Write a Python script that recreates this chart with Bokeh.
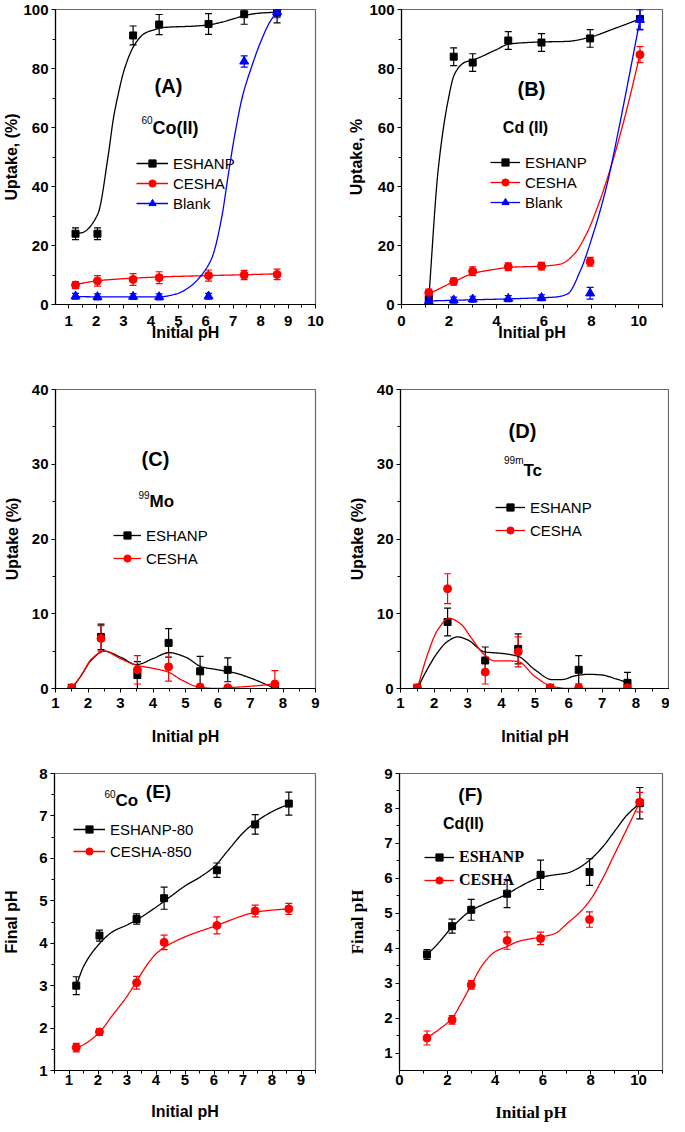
import numpy as np
from bokeh.plotting import figure
from bokeh.layouts import row, column
from bokeh.models import (ColumnDataSource, Whisker, TeeHead, Legend, LegendItem,
                          Label, FixedTicker, Range1d)
from bokeh.embed import file_html
from bokeh.resources import INLINE

# ---------------- DATA ----------------
# Panel A : 60Co(II) uptake
a_ph = [1.25, 2.05, 3.35, 4.3, 6.1, 7.4, 8.6]
a_eshanp = [24.0, 24.0, 91.2, 94.9, 95.1, 98.4, 98.9]
a_eshanp_err = [2.0, 2.0, 3.2, 3.4, 3.5, 3.4, 3.4]
a_cesha = [6.6, 8.0, 8.5, 9.1, 9.8, 10.0, 10.2]
a_cesha_err = [1.2, 1.8, 2.0, 2.0, 1.9, 1.6, 1.8]
a_blank = [2.8, 2.6, 2.7, 2.6, 2.8, 82.4, 99.2]
a_blank_err = [1.0, 1.0, 1.0, 1.0, 1.0, 1.9, 2.0]
a_fit_eshanp_x = [1.25, 1.5, 2.06, 2.45, 2.63, 2.8, 3.04, 3.4, 3.75, 4.1, 4.46, 5.64, 6.11, 6.58, 7.06, 7.53, 8.0, 8.6]
a_fit_eshanp_y = [24.0, 24.4, 30.6, 51, 63, 71, 80, 88, 91.8, 93.1, 93.9, 94.4, 94.8, 95.7, 97, 98.2, 98.8, 99.1]
a_fit_cesha_x = [1.25, 2.1, 3.3, 4.5, 6.1, 7.4, 8.6]
a_fit_cesha_y = [6.8, 8.1, 8.9, 9.4, 9.8, 10.1, 10.4]
a_fit_blank_x = [1.25, 2.0, 3.0, 4.3, 4.93, 5.4, 5.88, 6.23, 6.58, 6.82, 7.06, 7.35, 7.65, 8.0, 8.35, 8.6]
a_fit_blank_y = [2.7, 2.6, 2.6, 2.6, 3.6, 5.9, 10.4, 16, 29.5, 44, 57.7, 71, 80, 89, 96, 99.2]
a_xticks = [1, 2, 3, 4, 5, 6, 7, 8, 9, 10]
a_yticks = [0, 20, 40, 60, 80, 100]

# Panel B : Cd(II) uptake
b_ph = [1.15, 2.2, 3.0, 4.5, 5.9, 7.95, 10.05]
b_eshanp = [2.0, 84.0, 82.0, 89.5, 88.8, 90.2, 96.8]
b_eshanp_err = [1.5, 3.0, 3.0, 3.0, 3.0, 3.0, 3.5]
b_cesha = [4.0, 7.8, 11.3, 12.8, 13.0, 14.5, 84.7]
b_cesha_err = [1.2, 1.2, 1.5, 1.3, 1.3, 1.5, 2.7]
b_blank = [1.2, 1.5, 1.8, 2.0, 2.3, 3.8, 96.5]
b_blank_err = [1.0, 1.0, 1.0, 1.0, 1.0, 2.0, 3.4]
b_fit_eshanp_x = [1.15, 1.55, 1.96, 2.23, 2.64, 3.05, 4.0, 4.54, 5.9, 7.0, 7.8, 9.03, 10.05]
b_fit_eshanp_y = [2.0, 46, 69, 78, 82, 83, 86.4, 88.3, 89, 89.2, 90.3, 93.7, 96.8]
b_fit_cesha_x = [1.15, 2.23, 3.05, 4.0, 4.54, 5.9, 6.7, 7.27, 7.8, 8.35, 8.9, 9.44, 10.05]
b_fit_cesha_y = [3.6, 7.8, 10.6, 12.0, 12.6, 13.0, 13.7, 17, 24, 35, 48.6, 64.4, 84.7]
b_fit_blank_x = [1.15, 3.0, 4.5, 5.9, 6.45, 7.0, 7.54, 8.08, 8.63, 9.17, 9.58, 10.05]
b_fit_blank_y = [1.2, 1.6, 1.9, 2.3, 2.5, 3.6, 11.5, 24, 39.6, 60, 76.8, 96.5]
b_xticks = [0, 2, 4, 6, 8, 10]
b_yticks = [0, 20, 40, 60, 80, 100]

# Panel C : 99Mo uptake
c_ph = [1.5, 2.4, 3.52, 4.48, 5.45, 6.3, 7.75]
c_eshanp = [0.1, 6.9, 1.8, 6.1, 2.3, 2.5, 0.2]
c_eshanp_err = [0.0, 1.7, 1.8, 1.9, 2.0, 1.6, 0.0]
c_cesha = [0.1, 6.7, 2.5, 2.9, 0.2, 0.1, 0.6]
c_cesha_err = [0.0, 1.7, 1.9, 1.9, 0.0, 0.0, 1.8]
c_fit_eshanp_x = [1.5, 1.8, 2.1, 2.5, 3.0, 3.5, 4.0, 4.5, 5.0, 5.5, 6.0, 6.5, 7.0, 7.5, 7.75]
c_fit_eshanp_y = [0.0, 1.8, 3.8, 5.0, 4.2, 3.2, 4.0, 4.8, 4.2, 2.9, 2.5, 2.1, 1.4, 0.5, 0.0]
c_fit_cesha_x = [1.5, 1.8, 2.1, 2.5, 3.0, 3.5, 4.0, 4.46, 4.9, 5.4, 6.0, 6.3, 7.0, 7.75]
c_fit_cesha_y = [0.0, 1.8, 3.9, 5.0, 4.0, 3.1, 2.7, 2.2, 1.1, 0.2, 0.0, 0.1, 0.3, 0.6]
c_xticks = [1, 2, 3, 4, 5, 6, 7, 8, 9]
c_yticks = [0, 10, 20, 30, 40]

# Panel D : 99mTc uptake
d_ph = [1.5, 2.4, 3.52, 4.5, 5.45, 6.3, 7.75]
d_eshanp = [0.1, 8.9, 3.75, 5.3, 0.1, 2.5, 0.76]
d_eshanp_err = [0.0, 1.85, 1.8, 2.0, 0.0, 1.9, 1.4]
d_cesha = [0.1, 13.35, 2.2, 4.9, 0.1, 0.1, 0.1]
d_cesha_err = [0.0, 2.0, 1.6, 2.0, 0.0, 0.0, 0.0]
d_fit_eshanp_x = [1.5, 1.8, 2.1, 2.4, 2.7, 3.0, 3.5, 4.0, 4.5, 5.0, 5.5, 5.8, 6.2, 6.6, 7.0, 7.4, 7.75]
d_fit_eshanp_y = [0.0, 2.6, 4.8, 6.3, 6.9, 6.5, 4.9, 4.7, 4.3, 2.5, 1.2, 1.2, 1.7, 1.9, 1.8, 1.3, 0.8]
d_fit_cesha_x = [1.5, 1.8, 2.1, 2.45, 2.8, 3.1, 3.5, 3.8, 4.2, 4.5, 5.0, 5.5, 6.0, 7.75]
d_fit_cesha_y = [0.0, 4.5, 7.8, 9.4, 8.6, 6.8, 4.5, 3.7, 3.7, 3.6, 1.6, 0.3, 0.0, 0.0]
d_xticks = [1, 2, 3, 4, 5, 6, 7, 8, 9]
d_yticks = [0, 10, 20, 30, 40]

# Panel E : 60Co final pH
e_ph = [1.25, 2.05, 3.33, 4.28, 6.1, 7.42, 8.58]
e_eshanp = [3.0, 4.18, 4.57, 5.06, 5.72, 6.8, 7.29]
e_eshanp_err = [0.21, 0.13, 0.12, 0.26, 0.17, 0.23, 0.27]
e_cesha = [1.54, 1.91, 3.07, 4.02, 4.42, 4.76, 4.81]
e_cesha_err = [0.1, 0.08, 0.15, 0.17, 0.2, 0.14, 0.13]
e_fit_eshanp_x = [1.25, 1.5, 2.0, 2.5, 3.0, 3.33, 4.0, 4.5, 5.0, 5.5, 6.0, 6.5, 7.0, 7.42, 8.0, 8.58]
e_fit_eshanp_y = [3.0, 3.45, 3.95, 4.27, 4.43, 4.55, 4.85, 5.1, 5.35, 5.55, 5.8, 6.2, 6.6, 6.85, 7.1, 7.28]
e_fit_cesha_x = [1.25, 1.6, 2.05, 2.5, 3.0, 3.33, 3.7, 4.0, 4.28, 5.0, 6.1, 7.0, 7.42, 8.0, 8.58]
e_fit_cesha_y = [1.52, 1.65, 1.9, 2.3, 2.75, 3.1, 3.5, 3.75, 3.9, 4.15, 4.42, 4.65, 4.73, 4.78, 4.81]
e_xticks = [1, 2, 3, 4, 5, 6, 7, 8, 9]
e_yticks = [1, 2, 3, 4, 5, 6, 7, 8]

# Panel F : Cd(II) final pH
f_ph = [1.15, 2.2, 3.0, 4.5, 5.9, 7.95, 10.05]
f_eshanp = [3.82, 4.63, 5.1, 5.56, 6.1, 6.18, 8.15]
f_eshanp_err = [0.14, 0.2, 0.3, 0.4, 0.42, 0.38, 0.45]
f_cesha = [1.43, 1.95, 2.95, 4.22, 4.28, 4.82, 8.18]
f_cesha_err = [0.2, 0.12, 0.12, 0.25, 0.18, 0.22, 0.28]
f_fit_eshanp_x = [1.15, 1.5, 2.2, 3.0, 3.5, 4.5, 5.0, 5.9, 6.5, 7.0, 7.5, 8.0, 8.5, 9.0, 9.5, 10.05]
f_fit_eshanp_y = [3.82, 4.05, 4.6, 5.08, 5.25, 5.55, 5.75, 6.03, 6.1, 6.15, 6.3, 6.55, 6.9, 7.35, 7.8, 8.15]
f_fit_cesha_x = [1.15, 1.7, 2.2, 2.6, 3.0, 3.5, 4.0, 4.5, 5.0, 5.9, 6.5, 7.0, 7.5, 8.0, 8.5, 9.0, 9.5, 10.05]
f_fit_cesha_y = [1.43, 1.7, 2.0, 2.45, 2.95, 3.55, 3.9, 4.05, 4.2, 4.32, 4.42, 4.7, 5.0, 5.4, 6.0, 6.7, 7.4, 8.18]
f_xticks = [0, 2, 4, 6, 8, 10]
f_yticks = [1, 2, 3, 4, 5, 6, 7, 8, 9]

BLACK, RED, BLUE = "#000000", "#ff0000", "#0000ff"
SANS, SERIF = "Liberation Sans", "Liberation Serif"


def smooth(xk, yk, n=240):
    x = np.asarray(xk, float)
    y = np.asarray(yk, float)
    h = np.diff(x)
    d = np.diff(y) / h
    m = np.zeros_like(y)
    for k in range(1, len(x) - 1):
        if d[k - 1] * d[k] > 0:
            w1 = 2 * h[k] + h[k - 1]
            w2 = h[k] + 2 * h[k - 1]
            m[k] = (w1 + w2) / (w1 / d[k - 1] + w2 / d[k])
    m[0] = d[0]
    m[-1] = d[-1]
    xs = np.linspace(x[0], x[-1], n)
    i = np.clip(np.searchsorted(x, xs) - 1, 0, len(h) - 1)
    t = (xs - x[i]) / h[i]
    h00 = 2 * t**3 - 3 * t**2 + 1
    h10 = t**3 - 2 * t**2 + t
    h01 = -2 * t**3 + 3 * t**2
    h11 = t**3 - t**2
    ys = h00 * y[i] + h10 * h[i] * m[i] + h01 * y[i + 1] + h11 * h[i] * m[i + 1]
    return xs, ys


def make_fig(width, height, bl, br, bt, bb, xr, yr, xt, xmt, yt, ymt,
             xlabel, ylabel, title_font=SANS, x_std=(3, 0), y_std=(3, 0)):
    p = figure(width=width, height=height, x_range=Range1d(*xr), y_range=Range1d(*yr),
               output_backend="svg", toolbar_location=None,
               min_border_left=bl, min_border_right=br, min_border_top=bt,
               min_border_bottom=bb)
    p.grid.visible = False
    p.outline_line_color = "#6a6a6a"
    p.outline_line_width = 1.2
    p.background_fill_color = "white"
    p.border_fill_color = "white"
    p.xaxis.ticker = FixedTicker(ticks=xt, minor_ticks=xmt)
    p.yaxis.ticker = FixedTicker(ticks=yt, minor_ticks=ymt)
    p.xaxis.axis_label = xlabel
    p.yaxis.axis_label = ylabel
    for ax, std in ((p.xaxis[0], x_std), (p.yaxis[0], y_std)):
        ax.axis_line_color = "black"
        ax.axis_line_width = 1.2
        ax.major_tick_line_color = "black"
        ax.minor_tick_line_color = "black"
        ax.major_tick_out = 4
        ax.major_tick_in = 0
        ax.minor_tick_out = 3
        ax.minor_tick_in = 0
        ax.major_label_text_font = SANS
        ax.major_label_text_font_style = "bold"
        ax.major_label_text_font_size = "15px"
        ax.major_label_text_color = "black"
        ax.major_label_standoff = std[0]
        ax.axis_label_text_font = title_font
        ax.axis_label_text_font_style = "bold"
        ax.axis_label_text_font_size = "16px" if title_font == SANS else "17px"
        ax.axis_label_text_color = "black"
        ax.axis_label_standoff = std[1]
    return p


def series(p, x, y, err, fx, fy, color, marker, size):
    xs, ys = smooth(fx, fy)
    ln = p.line(xs, ys, line_color=color, line_width=1.3)
    y = np.asarray(y, float)
    e = np.asarray(err, float)
    src = ColumnDataSource(dict(x=x, up=y + e, lo=y - e))
    p.add_layout(Whisker(source=src, base="x", upper="up", lower="lo",
                         line_color=color, line_width=1.2,
                         upper_head=TeeHead(size=7, line_color=color, line_width=1.2),
                         lower_head=TeeHead(size=7, line_color=color, line_width=1.2)))
    sc = p.scatter(x, y, marker=marker, size=size, fill_color=color, line_color=color)
    return [ln, sc]


def legend(p, items, loc, spacing, glyph_w=30, font=SANS, style="normal", size="15px"):
    lg = Legend(items=[LegendItem(label=l, renderers=r) for l, r in items],
                location=loc, padding=0, margin=0, spacing=spacing,
                glyph_width=glyph_w, glyph_height=18, label_height=18,
                label_standoff=5, border_line_alpha=0, background_fill_alpha=0,
                label_text_font=font, label_text_font_style=style,
                label_text_font_size=size, label_text_color="black")
    p.add_layout(lg)


def note(p, fl, fb, px, py, text, size, align="left", style="bold", font=SANS):
    p.add_layout(Label(x=px - fl, y=fb - py, x_units="screen", y_units="screen",
                       text=text, text_font=font, text_font_style=style,
                       text_font_size=f"{size}px", text_align=align,
                       text_baseline="middle", text_color="black"))


# ---------------- PANEL A ----------------
pA = make_fig(345, 360, 49, 30, 9, 56, (0.52, 10.0), (0, 100),
              a_xticks, [x + 0.5 for x in a_xticks[:-1]] + [0.5],
              a_yticks, [v + 10 for v in a_yticks[:-1]],
              "Initial pH", "Uptake, (%)", x_std=(7, -5), y_std=(3, 0))
rA1 = series(pA, a_ph, a_eshanp, a_eshanp_err, a_fit_eshanp_x, a_fit_eshanp_y, BLACK, "square", 7)
rA2 = series(pA, a_ph, a_cesha, a_cesha_err, a_fit_cesha_x, a_fit_cesha_y, RED, "circle", 8)
rA3 = series(pA, a_ph, a_blank, a_blank_err, a_fit_blank_x, a_fit_blank_y, BLUE, "triangle", 9)
legend(pA, [("ESHANP", rA1), ("CESHA", rA2), ("Blank", rA3)], (81, 92), 2, glyph_w=32)
note(pA, 57, 304, 170, 85, "(A)", 20, align="center")
note(pA, 57, 304, 154, 119, "60", 10, align="right", style="normal")
note(pA, 57, 304, 154, 127, "Co(II)", 18)

# ---------------- PANEL B ----------------
pB = make_fig(324, 360, 50, 7, 9, 56, (0, 11), (0, 100),
              b_xticks, [1, 3, 5, 7, 9, 11],
              b_yticks, [v + 10 for v in b_yticks[:-1]],
              "Initial pH", "Uptake, %", x_std=(7, -5), y_std=(3, 1))
rB1 = series(pB, b_ph, b_eshanp, b_eshanp_err, b_fit_eshanp_x, b_fit_eshanp_y, BLACK, "square", 7)
rB2 = series(pB, b_ph, b_cesha, b_cesha_err, b_fit_cesha_x, b_fit_cesha_y, RED, "circle", 8)
rB3 = series(pB, b_ph, b_blank, b_blank_err, b_fit_blank_x, b_fit_blank_y, BLUE, "triangle", 9)
legend(pB, [("ESHANP", rB1), ("CESHA", rB2), ("Blank", rB3)], (89, 93), 2, glyph_w=30)
note(pB, 403, 304, 533, 88, "(B)", 20, align="center")
note(pB, 403, 304, 527, 127, "Cd (II)", 16, align="center")

# ---------------- PANEL C ----------------
pC = make_fig(345, 388, 49, 30, 29, 60, (1, 9), (0, 40),
              c_xticks, [x + 0.5 for x in c_xticks[:-1]],
              c_yticks, [v + 5 for v in c_yticks[:-1]],
              "Initial pH", "Uptake (%)", x_std=(5, 17), y_std=(3, 8))
rC1 = series(pC, c_ph, c_eshanp, c_eshanp_err, c_fit_eshanp_x, c_fit_eshanp_y, BLACK, "square", 7)
rC2 = series(pC, c_ph, c_cesha, c_cesha_err, c_fit_cesha_x, c_fit_cesha_y, RED, "circle", 8)
legend(pC, [("ESHANP", rC1), ("CESHA", rC2)], (58, 121), 5, glyph_w=28)
note(pC, 57, 688, 157, 458, "(C)", 20, align="center")
note(pC, 57, 688, 151, 494, "99", 10, align="right", style="normal")
note(pC, 57, 688, 151, 501, "Mo", 17)

# ---------------- PANEL D ----------------
pD = make_fig(324, 388, 50, 0, 29, 60, (1, 9), (0, 40),
              d_xticks, [x + 0.5 for x in d_xticks[:-1]],
              d_yticks, [v + 5 for v in d_yticks[:-1]],
              "Initial pH", "Uptake (%)", x_std=(5, 17), y_std=(3, 8))
rD1 = series(pD, d_ph, d_eshanp, d_eshanp_err, d_fit_eshanp_x, d_fit_eshanp_y, BLACK, "square", 7)
rD2 = series(pD, d_ph, d_cesha, d_cesha_err, d_fit_cesha_x, d_fit_cesha_y, RED, "circle", 8)
legend(pD, [("ESHANP", rD1), ("CESHA", rD2)], (95, 149), 5, glyph_w=30)
note(pD, 403, 688, 525, 430, "(D)", 20, align="center")
note(pD, 403, 688, 526, 460, "99m", 10, align="right", style="normal")
note(pD, 403, 688, 526, 470, "Tc", 17)

# ---------------- PANEL E ----------------
pE = make_fig(345, 376, 49, 30, 25, 52, (0.5, 9.5), (1, 8),
              e_xticks, [x + 0.5 for x in e_xticks[:-1]] + [0.5, 9.5],
              e_yticks, [v + 0.5 for v in e_yticks[:-1]],
              "Initial pH", "Final pH", x_std=(0, 15), y_std=(3, 16))
rE1 = series(pE, e_ph, e_eshanp, e_eshanp_err, e_fit_eshanp_x, e_fit_eshanp_y, BLACK, "square", 7)
rE2 = series(pE, e_ph, e_cesha, e_cesha_err, e_fit_cesha_x, e_fit_cesha_y, RED, "circle", 8)
legend(pE, [("ESHANP-80", rE1), ("CESHA-850", rE2)], (19, 210), 4, glyph_w=32)
note(pE, 57, 1072, 118, 795, "60", 10, align="right", style="normal")
note(pE, 57, 1072, 118, 802, "Co", 17)
note(pE, 57, 1072, 161, 793, "(E)", 19, align="center")

# ---------------- PANEL F ----------------
pF = make_fig(324, 376, 50, 7, 25, 52, (0, 11), (0.5, 9),
              f_xticks, [1, 3, 5, 7, 9, 11],
              f_yticks, [v + 0.5 for v in f_yticks[:-1]],
              "Initial pH", "Final pH", title_font=SERIF, x_std=(0, 15), y_std=(3, 14))
rF1 = series(pF, f_ph, f_eshanp, f_eshanp_err, f_fit_eshanp_x, f_fit_eshanp_y, BLACK, "square", 7)
rF2 = series(pF, f_ph, f_cesha, f_cesha_err, f_fit_cesha_x, f_fit_cesha_y, RED, "circle", 8)
legend(pF, [("ESHANP", rF1), ("CESHA", rF2)], (25, 181), 5, glyph_w=30,
       font=SERIF, style="bold", size="16px")
note(pF, 403, 1072, 474, 796, "(F)", 19, align="center")
note(pF, 403, 1072, 467, 825, "Cd(II)", 16, align="center")

layout = column(row(pA, pB, spacing=0), row(pC, pD, spacing=0), row(pE, pF, spacing=0), spacing=0)
open("out.html", "w").write(file_html(layout, INLINE))
